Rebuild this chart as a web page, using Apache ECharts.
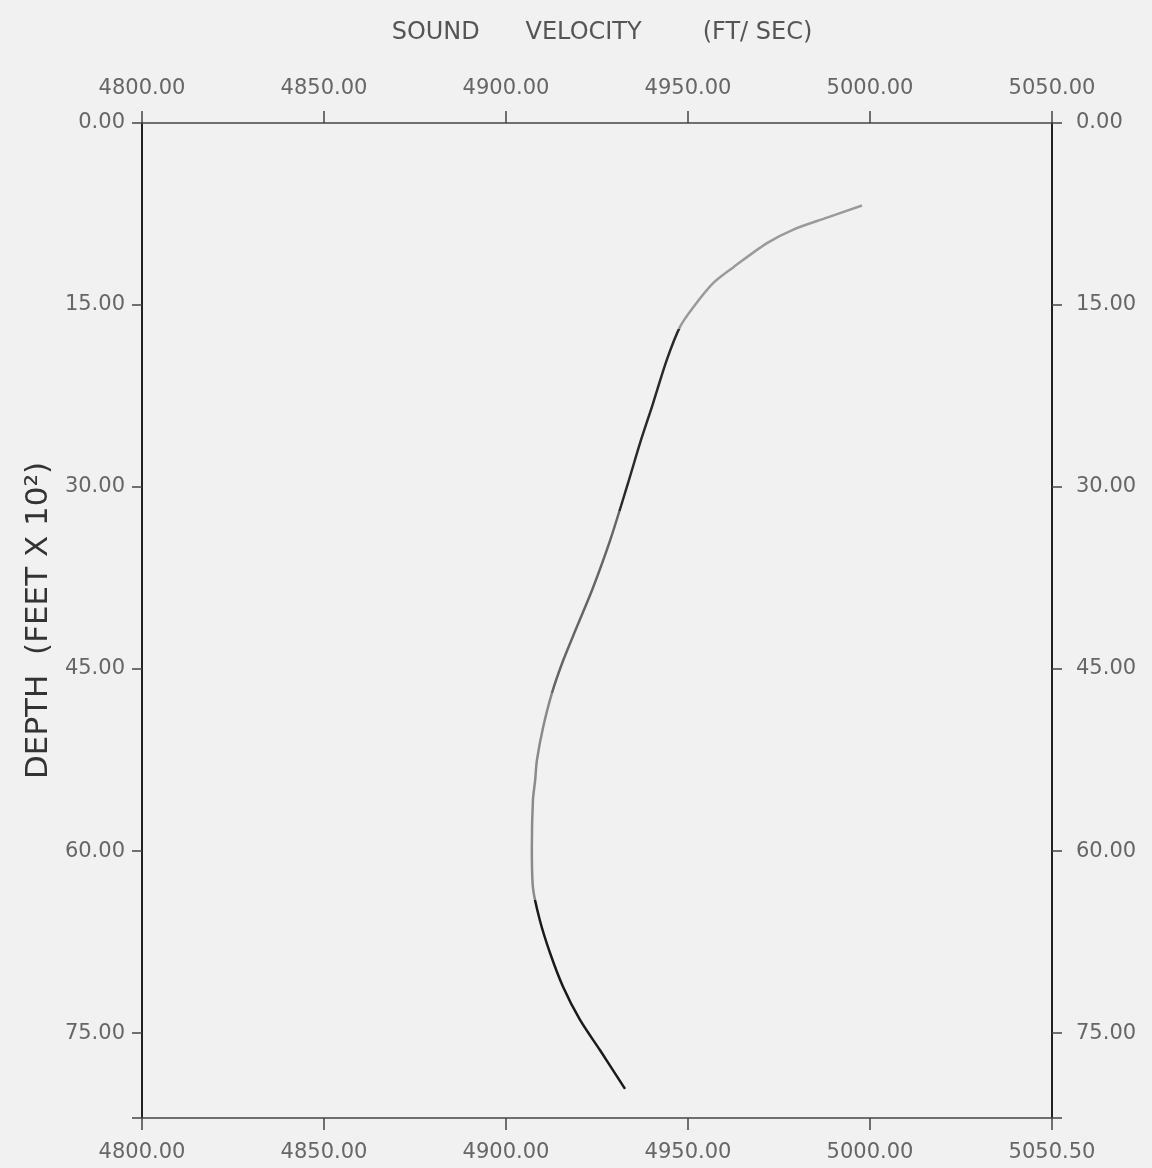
<!DOCTYPE html>
<html>
<head>
<meta charset="utf-8">
<script src="https://cdn.jsdelivr.net/npm/echarts@6/dist/echarts.min.js"></script>
<style>
  html, body { margin: 0; padding: 0; background: #f1f1f1; }
  #chart { width: 1152px; height: 1168px; }
</style>
</head>
<body>
<div id="chart"></div>
<script>
// sound velocity (ft/sec)
var velocity = [4997.8, 4988.2, 4978.8, 4971.7, 4962.4, 4956.9, 4951.4, 4947.8, 4944.2, 4940.4,
	4936.8, 4933.5, 4928.6, 4923.9, 4919.5, 4915.7, 4912.6, 4910.2, 4908.5, 4908.0,
	4907.4, 4907.1, 4907.4, 4909.3, 4912.1, 4915.7, 4920.3, 4925.8, 4932.7];
// depth (feet x 10^2)
var depth = [6.8, 7.8, 8.8, 9.9, 11.9, 13.2, 15.2, 16.8, 19.5, 23.1,
	26.4, 29.7, 34.4, 38.3, 41.5, 44.3, 47.0, 49.8, 52.5, 54.2,
	55.8, 59.7, 63.0, 65.7, 68.4, 71.2, 73.9, 76.4, 79.6];
var xTicks = [4800, 4850, 4900, 4950, 5000, 5050];
var yTicks = [0, 15, 30, 45, 60, 75];

var pts = [];
for (var i = 0; i < velocity.length; i++) {
	pts.push([velocity[i], depth[i]]);
}

var labelFont = {
	fontFamily: 'DejaVu Sans',
	fontSize: 21,
	color: '#666'
};

function xAxisCfg(pos, lastText) {
	return {
		type: 'value',
		position: pos,
		min: xTicks[0],
		max: xTicks[xTicks.length - 1],
		interval: 50,
		axisLine: { show: true, onZero: false, lineStyle: { color: '#444', width: 1.5 } },
		axisTick: { show: true, inside: false, length: 12, lineStyle: { color: '#444', width: 1.5 } },
		splitLine: { show: false },
		axisLabel: Object.assign({
			margin: 24,
			formatter: function(v) {
				if (v == 5050) return lastText;
				return v.toFixed(2);
			}
		}, labelFont)
	};
}

function yAxisCfg(pos, withName) {
	var a = {
		type: 'value',
		position: pos,
		inverse: true,
		min: 0,
		max: 82,
		interval: 15,
		axisLine: { show: true, onZero: false, lineStyle: { color: '#222', width: 2 } },
		axisTick: { show: true, inside: false, length: 10, lineStyle: { color: '#444', width: 1.5 } },
		splitLine: { show: false },
		axisLabel: Object.assign({
			margin: pos == 'left' ? 17 : 24,
			formatter: function(v) {
				if (yTicks.indexOf(v) < 0) return '';
				return v.toFixed(2);
			}
		}, labelFont)
	};
	if (withName) {
		a.name = 'DEPTH  (FEET X 10²)';
		a.nameLocation = 'middle';
		a.nameGap = 88;
		a.nameTextStyle = { fontFamily: 'DejaVu Sans', fontSize: 31, color: '#333' };
	}
	return a;
}

var myChart = echarts.init(document.getElementById('chart'));
var option = {
	backgroundColor: '#f1f1f1',
	animation: false,
	title: {
		text: 'SOUND      VELOCITY        (FT/ SEC)',
		left: 597,
		textAlign: 'center',
		top: 16,
		textStyle: { fontFamily: 'DejaVu Sans', fontSize: 24, fontWeight: 'normal', color: '#555' }
	},
	grid: { left: 142, right: 100, top: 123, bottom: 50 },
	xAxis: [xAxisCfg('bottom', '5050.50'), xAxisCfg('top', '5050.00')],
	yAxis: [yAxisCfg('left', true), yAxisCfg('right', false)],
	// shade the trace like the plotter pen: faint at the top, darker further down
	visualMap: {
		show: false,
		type: 'piecewise',
		dimension: 1,
		seriesIndex: 0,
		pieces: [
			{ lt: 17, color: '#9a9a9a' },
			{ gte: 17, lt: 32, color: '#2a2a2a' },
			{ gte: 32, lt: 47, color: '#666' },
			{ gte: 47, lt: 64, color: '#8a8a8a' },
			{ gte: 64, color: '#1a1a1a' }
		]
	},
	series: [{
		type: 'line',
		xAxisIndex: 0,
		yAxisIndex: 0,
		data: pts,
		smooth: 0.3,
		showSymbol: false,
		lineStyle: { width: 2.5 }
	}]
};
myChart.setOption(option);
</script>
</body>
</html>
